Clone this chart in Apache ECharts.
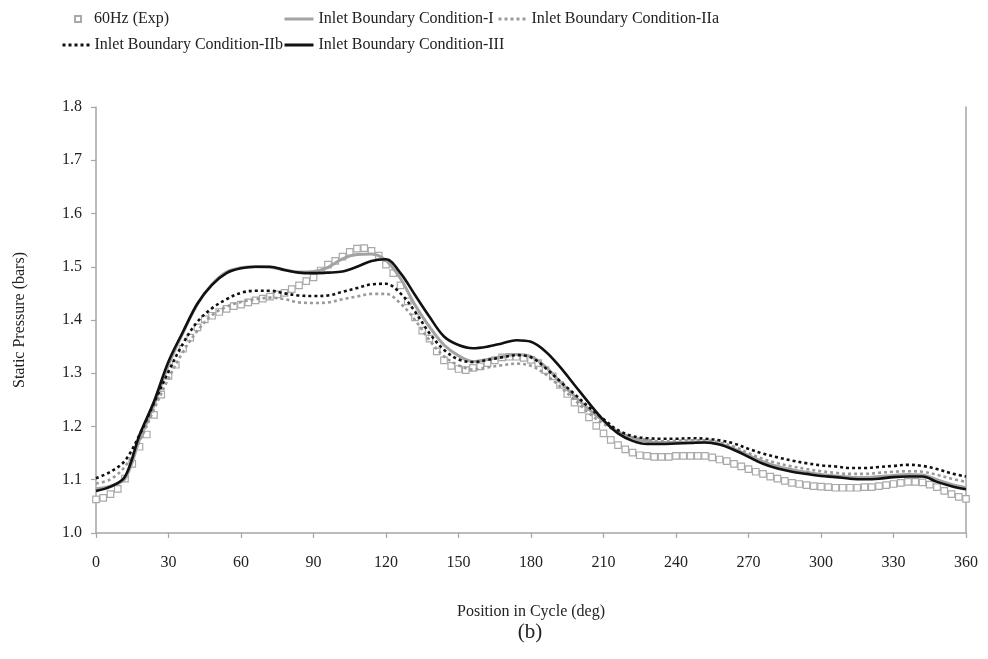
<!DOCTYPE html>
<html>
<head>
<meta charset="utf-8">
<script src="https://cdn.jsdelivr.net/npm/echarts@6/dist/echarts.min.js"></script>
<style>
html,body{margin:0;padding:0;background:#fff;}
#chart{width:988px;height:659px;}
</style>
</head>
<body>
<div id="chart"></div>
<script>
// ---- data ----
const seriesNames = ['60Hz (Exp)', 'Inlet Boundary Condition-I', 'Inlet Boundary Condition-IIa', 'Inlet Boundary Condition-IIb', 'Inlet Boundary Condition-III'];

const expDeg = [0,3,6,9,12,15,18,21,24,27,30,33,36,39,42,45,48,51,54,57,60,63,66,69,72,75,78,81,84,87,90,93,96,99,102,105,108,111,114,117,120,123,126,129,132,135,138,141,144,147,150,153,156,159,162,165,168,171,174,177,180,183,186,189,192,195,198,201,204,207,210,213,216,219,222,225,228,231,234,237,240,243,246,249,252,255,258,261,264,267,270,273,276,279,282,285,288,291,294,297,300,303,306,309,312,315,318,321,324,327,330,333,336,339,342,345,348,351,354,357,360];
const expVal = [1.063,1.066,1.073,1.083,1.102,1.130,1.162,1.185,1.222,1.260,1.295,1.316,1.346,1.367,1.386,1.401,1.408,1.415,1.421,1.426,1.429,1.433,1.437,1.440,1.444,1.448,1.451,1.458,1.465,1.473,1.480,1.493,1.504,1.511,1.519,1.528,1.534,1.535,1.530,1.521,1.504,1.488,1.465,1.435,1.405,1.380,1.365,1.341,1.324,1.314,1.308,1.306,1.310,1.313,1.319,1.324,1.330,1.331,1.331,1.329,1.325,1.319,1.306,1.294,1.278,1.261,1.245,1.232,1.217,1.201,1.187,1.175,1.165,1.157,1.151,1.146,1.145,1.143,1.143,1.143,1.145,1.145,1.145,1.145,1.145,1.142,1.138,1.135,1.130,1.125,1.120,1.115,1.111,1.106,1.102,1.098,1.094,1.092,1.090,1.088,1.087,1.086,1.085,1.085,1.085,1.085,1.086,1.086,1.088,1.090,1.092,1.094,1.096,1.096,1.095,1.091,1.086,1.079,1.073,1.068,1.064];

const simDeg = [0,6,12,18,24,30,36,42,48,54,60,66,72,78,84,90,96,102,108,114,120,126,132,138,144,150,156,162,168,174,180,186,192,198,204,210,216,222,228,234,240,246,252,258,264,270,276,282,288,294,300,306,312,318,324,330,336,342,348,354,360];
const condI = [1.083,1.088,1.102,1.175,1.240,1.316,1.376,1.430,1.467,1.490,1.498,1.500,1.499,1.494,1.490,1.491,1.499,1.515,1.523,1.524,1.512,1.478,1.428,1.387,1.353,1.333,1.322,1.326,1.331,1.335,1.331,1.312,1.284,1.257,1.232,1.210,1.190,1.178,1.172,1.170,1.170,1.171,1.171,1.167,1.158,1.146,1.134,1.125,1.119,1.114,1.110,1.107,1.105,1.104,1.106,1.108,1.110,1.109,1.100,1.091,1.085];
const condIIa = [1.093,1.101,1.125,1.172,1.232,1.290,1.340,1.380,1.409,1.425,1.434,1.439,1.442,1.439,1.433,1.432,1.433,1.439,1.444,1.449,1.449,1.431,1.400,1.362,1.332,1.315,1.307,1.311,1.315,1.318,1.314,1.298,1.275,1.250,1.225,1.205,1.190,1.180,1.175,1.172,1.173,1.174,1.174,1.170,1.162,1.150,1.139,1.131,1.125,1.120,1.116,1.113,1.111,1.111,1.113,1.115,1.116,1.115,1.109,1.102,1.096];
const condIIb = [1.103,1.115,1.136,1.184,1.244,1.303,1.356,1.397,1.422,1.439,1.451,1.455,1.455,1.450,1.446,1.445,1.446,1.453,1.460,1.467,1.468,1.450,1.416,1.375,1.344,1.326,1.321,1.325,1.330,1.334,1.330,1.310,1.285,1.261,1.236,1.214,1.193,1.182,1.178,1.177,1.177,1.178,1.177,1.174,1.168,1.158,1.149,1.142,1.136,1.131,1.127,1.125,1.122,1.122,1.124,1.126,1.128,1.126,1.120,1.112,1.106];
const condIII = [1.079,1.087,1.106,1.184,1.247,1.322,1.378,1.431,1.466,1.488,1.497,1.500,1.500,1.494,1.489,1.488,1.489,1.491,1.500,1.511,1.514,1.488,1.447,1.406,1.369,1.353,1.347,1.350,1.356,1.362,1.359,1.341,1.312,1.278,1.244,1.212,1.187,1.173,1.167,1.167,1.168,1.169,1.170,1.166,1.156,1.143,1.130,1.121,1.115,1.111,1.107,1.105,1.102,1.101,1.102,1.105,1.106,1.106,1.096,1.088,1.082];

const xTicks = [0,30,60,90,120,150,180,210,240,270,300,330,360];
const yTicks = [1.0,1.1,1.2,1.3,1.4,1.5,1.6,1.7,1.8];

// ---- build ----
const pair = (xs, ys) => xs.map((x, i) => [x, ys[i]]);
const FONT = '"Liberation Serif", "DejaVu Serif", serif';
const AXIS_COLOR = '#a6a6a6';
const TEXT_COLOR = '#222';

const chart = echarts.init(document.getElementById('chart'), null, {renderer: 'canvas'});

function lineSeries(name, data, color, width, type, z) {
  return {
    name: name, type: 'line', data: data, smooth: 0.35,
    showSymbol: false, symbol: 'none', z: z,
    lineStyle: {color: color, width: width, type: type, cap: 'butt'},
    itemStyle: {color: color},
    emphasis: {disabled: true}, animation: false
  };
}

const legendBase = {
  orient: 'horizontal', itemHeight: 14, itemWidth: 29, padding: 0,
  textStyle: {fontFamily: FONT, fontSize: 16, color: TEXT_COLOR},
  itemStyle: {opacity: 0},
  lineStyle: {width: 3},
  selectedMode: false
};

const option = {
  backgroundColor: '#fff',
  animation: false,
  grid: {left: 96, right: 22, top: 107, bottom: 126, containLabel: false},
  legend: [
    Object.assign({}, legendBase, {data: [seriesNames[0]], left: 74, top: 11, itemWidth: 6, itemHeight: 6, icon: 'rect',
      itemStyle: {opacity: 1},
      textStyle: {fontFamily: FONT, fontSize: 16, color: TEXT_COLOR, padding: [0, 0, 0, 8]}}),
    Object.assign({}, legendBase, {data: [seriesNames[1]], left: 283, top: 11}),
    Object.assign({}, legendBase, {data: [seriesNames[2]], left: 497, top: 11, itemWidth: 28}),
    Object.assign({}, legendBase, {data: [seriesNames[3]], left: 61, top: 37, itemWidth: 27}),
    Object.assign({}, legendBase, {data: [seriesNames[4]], left: 283, top: 37})
  ],
  xAxis: {
    type: 'value', min: 0, max: 360, interval: 30,
    name: 'Position in Cycle (deg)', nameLocation: 'middle', nameGap: 71,
    nameTextStyle: {fontFamily: FONT, fontSize: 16, color: TEXT_COLOR},
    axisLine: {show: true, lineStyle: {color: AXIS_COLOR, width: 1.5}},
    axisTick: {show: true, inside: false, length: 5, lineStyle: {color: AXIS_COLOR, width: 1.2}},
    axisLabel: {fontFamily: FONT, fontSize: 16, color: TEXT_COLOR, margin: 22,
      formatter: v => (xTicks.indexOf(v) >= 0 ? String(v) : '')},
    splitLine: {show: false}
  },
  yAxis: [{
    type: 'value', min: 1.0, max: 1.8, interval: 0.1,
    name: 'Static Pressure (bars)', nameLocation: 'middle', nameGap: 68,
    nameTextStyle: {fontFamily: FONT, fontSize: 16, color: TEXT_COLOR},
    axisLine: {show: true, lineStyle: {color: AXIS_COLOR, width: 1.5}},
    axisTick: {show: true, inside: false, length: 5, lineStyle: {color: AXIS_COLOR, width: 1.2}},
    axisLabel: {fontFamily: FONT, fontSize: 16, color: TEXT_COLOR, margin: 14,
      formatter: v => {
        const t = yTicks.find(y => Math.abs(y - v) < 1e-6);
        return t === undefined ? '' : t.toFixed(1);
      }},
    splitLine: {show: false}
  }, {
    type: 'value', min: 1.0, max: 1.8, interval: 0.1, position: 'right',
    axisLine: {show: true, onZero: false, lineStyle: {color: AXIS_COLOR, width: 1.5}},
    axisTick: {show: false}, axisLabel: {show: false}, splitLine: {show: false}
  }],
  graphic: [{
    type: 'text', x: 530, y: 632,
    style: {text: '(b)', font: '21px ' + FONT, fill: TEXT_COLOR, textAlign: 'center', textVerticalAlign: 'middle'}
  }],
  series: [
    {
      name: seriesNames[0], type: 'scatter', data: pair(expDeg, expVal),
      symbol: 'rect', symbolSize: 6.5, z: 1,
      itemStyle: {color: '#ffffff', borderColor: '#a9a9a9', borderWidth: 1.2, opacity: 1},
      emphasis: {disabled: true}, animation: false
    },
    lineSeries(seriesNames[1], pair(simDeg, condI), '#a3a3a3', 3, 'solid', 2),
    lineSeries(seriesNames[2], pair(simDeg, condIIa), '#9a9a9a', 2.6, [3, 3], 3),
    lineSeries(seriesNames[3], pair(simDeg, condIIb), '#111111', 2.6, [3, 3], 4),
    lineSeries(seriesNames[4], pair(simDeg, condIII), '#111111', 2.6, 'solid', 5)
  ]
};
chart.setOption(option);
</script>
</body>
</html>
